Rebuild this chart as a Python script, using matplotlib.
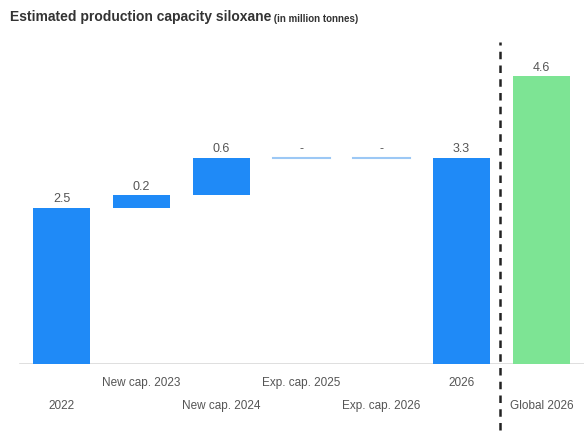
import matplotlib
matplotlib.use("Agg")
import matplotlib.pyplot as plt
import numpy as np

plt.rcParams['font.family'] = ['Liberation Sans', 'DejaVu Sans']

categories = ['2022', 'New cap. 2023', 'New cap. 2024', 'Exp. cap. 2025',
              'Exp. cap. 2026', '2026', 'Global 2026']
values = [2.5, 0.2, 0.6, 0.0, 0.0, 3.3, 4.6]
kinds = ['total', 'step', 'step', 'step', 'step', 'total', 'global']
labels = ['2.5', '0.2', '0.6', '-', '-', '3.3', '4.6']

blue = '#1f8af7'
green = '#7de494'
line_blue = '#9cc8f5'
gray = '#555555'

fig = plt.figure(figsize=(5.84, 4.33), dpi=100)
ax = fig.add_axes([0, 69 / 433, 1, 324 / 433])

# waterfall bottoms
bottoms = []
running = 0
for v, k in zip(values, kinds):
    if k == 'step':
        bottoms.append(running)
        running += v
    else:
        bottoms.append(0)
        running = v if k == 'total' else running

x = np.arange(len(categories))
w = 0.71
for i, (v, b, k, lab) in enumerate(zip(values, bottoms, kinds, labels)):
    if k == 'step' and v == 0:
        ax.plot([i - w / 2, i + w / 2], [b, b], color=line_blue, lw=1.5)
        top = b
    else:
        ax.bar(i, v, bottom=b, width=w, color=green if k == 'global' else blue)
        top = b + v
    ax.text(i, top + 0.04, lab, ha='center', va='bottom', fontsize=9, color=gray)

# baseline and separator
ax.plot([-0.52, 6.53], [0, 0], color='#d9d9d9', lw=1.2, zorder=0)
ax.plot([5.48, 5.48], [-1.06, 5.15], color='#222222', lw=1.8,
        ls=(0, (3, 2.5)), clip_on=False)

ax.set_xlim(-0.769, 6.531)
ax.set_ylim(0, 5.18)
ax.set_xticks([])
ax.set_yticks([])
for s in ax.spines.values():
    s.set_visible(False)

for i, c in enumerate(categories):
    yy = -0.30 if i % 2 else -0.67
    ax.text(i, yy, c, ha='center', va='center', fontsize=8.5, color=gray)

title = fig.text(0.017, 0.96, 'Estimated production capacity siloxane', fontsize=10,
                 color='#333333', va='center', fontweight='bold')
fig.canvas.draw()
ax.annotate(' (in million tonnes)', xy=(1, 0), xycoords=title, fontsize=7,
            color='#333333', va='bottom', ha='left', fontweight='bold')

fig.savefig('out.png', dpi=100)
